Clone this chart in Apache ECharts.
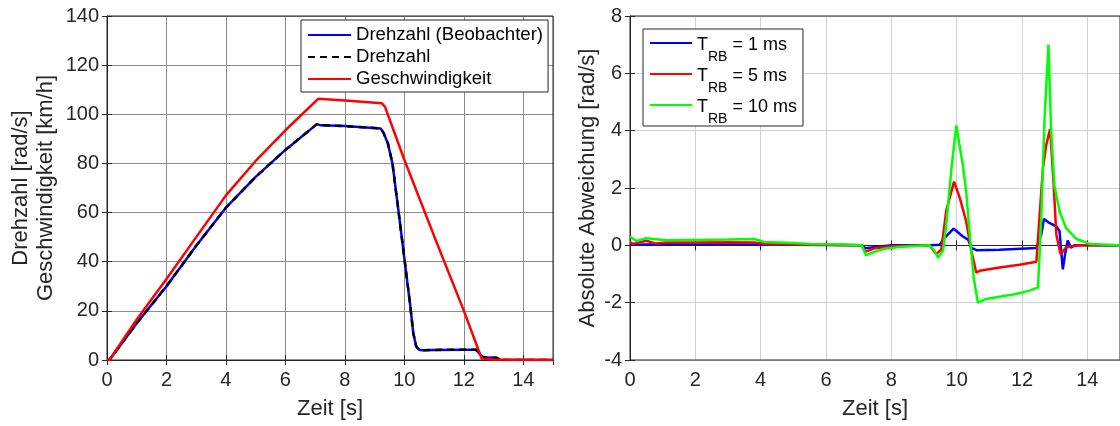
<!DOCTYPE html>
<html>
<head>
<meta charset="utf-8">
<script src="https://cdn.jsdelivr.net/npm/echarts@6/dist/echarts.min.js"></script>
<style>
  html, body { margin: 0; padding: 0; background: #fff; }
  #chart { width: 1120px; height: 426px; }
</style>
</head>
<body>
<div id="chart"></div>
<script>
// ---- Left panel: speed signals over time ----
const tDreh = [0, 0.08, 1, 2, 3, 4, 5, 6, 7.06, 7.2, 8, 9.2, 9.3, 9.45, 9.6, 9.8, 10, 10.2, 10.3, 10.4, 10.5, 10.6, 11, 12, 12.4, 12.5, 12.6, 12.7, 13.1, 13.25, 15];
const drehzahlBeob = [0, 0, 15, 30, 46.5, 62, 74.5, 85.5, 96, 95.5, 95.2, 94.2, 92.5, 88, 80, 61, 41.5, 22, 11, 5.5, 4.2, 4, 4.1, 4.2, 4.2, 3, 1.5, 1, 0.9, 0, 0];
const drehzahl     = [0, 0, 15, 30, 46.5, 62, 74.5, 85.5, 96, 95.6, 95.2, 94.2, 92.5, 88, 80, 61, 41.5, 22, 11, 5.5, 4.2, 4, 4.1, 4.2, 4.2, 3, 1.5, 1, 0.9, 0, 0];
const tGes = [0, 0.08, 1, 2, 3, 4, 5, 6, 7.1, 8, 9.25, 9.35, 10, 11, 12, 12.6, 13, 15];
const geschw = [0, 0, 16.5, 33, 50, 67, 81, 93.5, 106.3, 105.6, 104.5, 103, 81.5, 50.5, 20.1, 0.6, 0.2, 0];

// ---- Right panel: absolute deviation for three sampling times ----
const tB = [0, 0.1, 1, 2, 3, 4, 5, 6, 7.1, 7.2, 7.6, 8.0, 9.17, 9.48, 9.63, 9.91, 10.19, 10.35, 10.45, 10.6, 11.31, 12.44, 12.59, 12.67, 12.84, 13.05, 13.15, 13.2, 13.25, 13.32, 13.4, 13.5, 13.6, 15];
const vB = [0.05, 0.02, 0.04, 0.03, 0.04, 0.02, 0.02, 0.01, 0, -0.1, -0.05, 0, 0, 0.02, 0.26, 0.58, 0.31, 0.2, -0.09, -0.17, -0.15, -0.09, 0.38, 0.92, 0.78, 0.66, 0.49, -0.2, -0.84, -0.3, 0.17, -0.08, 0, 0];
const tR = [0, 0.1, 0.5, 0.8, 1.1, 2, 3, 3.8, 4.2, 5, 6, 7.1, 7.2, 7.5, 8, 9.17, 9.38, 9.53, 9.68, 9.92, 10.1, 10.29, 10.45, 10.6, 10.7, 11.31, 11.92, 12.44, 12.64, 12.74, 12.86, 12.97, 13.05, 13.18, 13.36, 13.77, 15];
const vR = [0.1, 0.05, 0.16, 0.06, 0.1, 0.1, 0.11, 0.1, 0.04, 0.03, 0.02, 0, -0.23, -0.1, -0.03, 0, -0.31, -0.14, 1.2, 2.22, 1.64, 0.84, -0.2, -0.95, -0.89, -0.77, -0.68, -0.57, 2.68, 3.49, 4.06, 2.1, 0.38, -0.31, -0.06, 0, 0];
const tG = [0, 0.05, 0.2, 0.5, 1.1, 2, 3, 3.8, 4.1, 5, 5.5, 6.5, 7.1, 7.22, 7.5, 7.8, 8.3, 9.17, 9.3, 9.43, 9.58, 9.68, 9.84, 9.99, 10.1, 10.19, 10.29, 10.4, 10.52, 10.65, 10.91, 11.31, 11.82, 12.23, 12.49, 12.59, 12.69, 12.81, 12.89, 12.99, 13.15, 13.35, 13.66, 14.07, 15];
const vG = [0.3, 0.25, 0.15, 0.25, 0.18, 0.19, 0.2, 0.22, 0.12, 0.08, 0.05, 0.03, 0, -0.35, -0.22, -0.12, -0.05, 0, -0.15, -0.43, -0.2, 0.71, 2.68, 4.18, 3.4, 2.8, 1.88, 0.37, -1.13, -2.0, -1.87, -1.79, -1.7, -1.58, -1.47, 0.96, 4.41, 7.0, 4.06, 2.1, 1.18, 0.6, 0.23, 0.05, 0];

const leftNames = ['Drehzahl (Beobachter)', 'Drehzahl', 'Geschwindigkeit'];
const rbTimes = ['1 ms', '5 ms', '10 ms'];
const rbNames = rbTimes.map(s => 'T_RB = ' + s);

const xTicksLabel = 'Zeit [s]';
const yLeftLabel = 'Drehzahl [rad/s]\nGeschwindigkeit [km/h]';
const yRightLabel = 'Absolute Abweichung [rad/s]';

const FONT = '"Liberation Sans", Arial, Helvetica, sans-serif';
const AX = '#262626';

const pairs = (t, v) => t.map((x, i) => [x, v[i]]);

function bottomX(grid, gridColor) {
  return {
    type: 'value', gridIndex: grid, min: 0, max: 15, interval: 2,
    name: xTicksLabel, nameLocation: 'middle', nameGap: 36,
    nameTextStyle: { fontFamily: FONT, fontSize: 22, color: AX, lineHeight: 25 },
    axisLine: { show: true, lineStyle: { color: AX, width: 1 } },
    axisTick: { show: true, inside: true, length: 5, lineStyle: { color: AX } },
    axisLabel: { fontFamily: FONT, fontSize: 20, color: AX, margin: 10, showMaxLabel: false },
    splitLine: { show: true, lineStyle: { color: gridColor, width: 1 } }
  };
}
function topX(grid) {
  return {
    type: 'value', gridIndex: grid, position: 'top', min: 0, max: 15, interval: 2,
    axisLine: { show: false }, axisLabel: { show: false }, splitLine: { show: false },
    axisTick: { show: true, inside: true, length: 5, lineStyle: { color: AX } }
  };
}
function leftY(grid, min, max, interval, name, nameGap, gridColor) {
  return {
    type: 'value', gridIndex: grid, min, max, interval,
    name, nameLocation: 'middle', nameRotate: 90, nameGap,
    nameTextStyle: { fontFamily: FONT, fontSize: 22, color: AX, lineHeight: 25 },
    axisLine: { show: true, lineStyle: { color: AX, width: 1 } },
    axisTick: { show: true, inside: true, length: 5, lineStyle: { color: AX } },
    axisLabel: { fontFamily: FONT, fontSize: 20, color: AX, margin: 8 },
    splitLine: { show: true, lineStyle: { color: gridColor, width: 1 } }
  };
}
function rightY(grid, min, max, interval) {
  return {
    type: 'value', gridIndex: grid, position: 'right', min, max, interval,
    axisLine: { show: false }, axisLabel: { show: false }, splitLine: { show: false },
    axisTick: { show: true, inside: true, length: 5, lineStyle: { color: AX } }
  };
}

function line(name, data, color, xi, yi, extra) {
  return Object.assign({
    name, type: 'line', xAxisIndex: xi, yAxisIndex: yi, data,
    symbol: 'none', smooth: false, animation: false,
    lineStyle: { color, width: 2.5 }, itemStyle: { color }
  }, extra || {});
}

const option = {
  backgroundColor: '#ffffff',
  animation: false,
  grid: [
    { left: 107, top: 16, width: 446, height: 347, show: true, borderColor: AX, borderWidth: 1, backgroundColor: 'transparent', z: 3 },
    { left: 630, top: 16, width: 491, height: 347, show: true, borderColor: AX, borderWidth: 1, backgroundColor: 'transparent', z: 3 }
  ],
  xAxis: [bottomX(0, '#8c8c8c'), topX(0), bottomX(1, '#d2d2d2'), topX(1)],
  yAxis: [
    leftY(0, 0, 140, 20, yLeftLabel, 49, '#8c8c8c'), rightY(0, 0, 140, 20),
    leftY(1, -4, 8, 2, yRightLabel, 29, '#d2d2d2'), rightY(1, -4, 8, 2)
  ],
  legend: [
    {
      data: leftNames, orient: 'vertical', left: 301, top: 20,
      padding: [4, 5, 2, 6], itemGap: 0, itemWidth: 43, itemHeight: 14,
      borderColor: AX, borderWidth: 1, backgroundColor: '#ffffff',
      itemStyle: { opacity: 0 },
      textStyle: { fontFamily: FONT, fontSize: 18.6, color: '#000', lineHeight: 22 },
      selectedMode: false
    },
    {
      data: rbNames, orient: 'vertical', left: 643, top: 29,
      padding: [4, 6, 0, 6], itemGap: 0, itemWidth: 42, itemHeight: 14,
      borderColor: AX, borderWidth: 1, backgroundColor: '#ffffff',
      itemStyle: { opacity: 0 },
      selectedMode: false,
      formatter: name => '{t|T}{s|RB}{t|' + name.slice(4) + '}',
      textStyle: {
        fontFamily: FONT, fontSize: 18, color: '#000',
        rich: {
          t: { fontFamily: FONT, fontSize: 18, color: '#000', lineHeight: 20, padding: [3, 0, 0, 0], verticalAlign: 'top' },
          s: { fontFamily: FONT, fontSize: 14, color: '#000', lineHeight: 14, padding: [17, 0, 0, 0], verticalAlign: 'top' }
        }
      }
    }
  ],
  series: [
    line(leftNames[0], pairs(tDreh, drehzahlBeob), '#0000ff', 0, 0),
    line(leftNames[1], pairs(tDreh, drehzahl), '#000000', 0, 0, { lineStyle: { color: '#000000', width: 2.5, type: [7, 5] } }),
    line(leftNames[2], pairs(tGes, geschw), '#ff0000', 0, 0),
    line(rbNames[0], pairs(tB, vB), '#0000ff', 2, 2),
    line(rbNames[1], pairs(tR, vR), '#ff0000', 2, 2),
    line(rbNames[2], pairs(tG, vG), '#00ff00', 2, 2)
  ]
};

const chart = echarts.init(document.getElementById('chart'), null, { renderer: 'canvas' });
chart.setOption(option);
</script>
</body>
</html>
